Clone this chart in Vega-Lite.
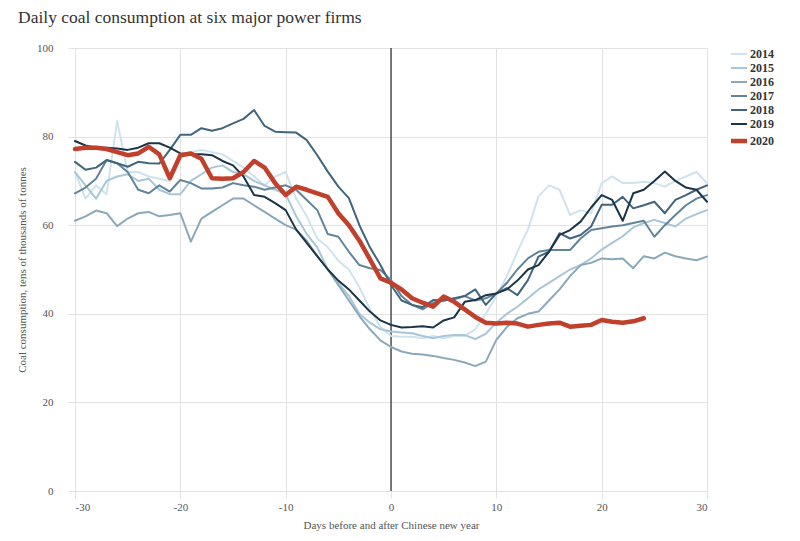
{
  "$schema": "https://vega.github.io/schema/vega-lite/v6.json",
  "description": "Daily coal consumption at six major power firms, days around Chinese new year",
  "width": 632,
  "height": 443,
  "autosize": {"type": "none"},
  "padding": {"left": 75, "top": 48, "right": 93, "bottom": 50},
  "background": "white",
  "config": {"font": "Liberation Serif", "view": {"stroke": null}},
  "title": {
    "text": "Daily coal consumption at six major power firms",
    "anchor": "start",
    "frame": "group",
    "dx": -57,
    "offset": 16,
    "fontSize": 17.5,
    "fontWeight": "normal",
    "color": "#333",
    "font": "Liberation Serif"
  },
  "layer": [
    {
      "data": {"values": [{}]},
      "mark": {"type": "rule", "color": "#000", "strokeWidth": 1},
      "encoding": {"x": {"datum": 0, "type": "quantitative"}}
    },
    {
      "data": {
        "values": [
          {"year":"2014","day":-30,"value":72},{"year":"2014","day":-29,"value":66},{"year":"2014","day":-28,"value":69},{"year":"2014","day":-27,"value":67},{"year":"2014","day":-26,"value":83.5},
          {"year":"2014","day":-25,"value":72},{"year":"2014","day":-24,"value":72},{"year":"2014","day":-23,"value":71},{"year":"2014","day":-22,"value":70.5},{"year":"2014","day":-21,"value":70},
          {"year":"2014","day":-20,"value":75},{"year":"2014","day":-19,"value":76.5},{"year":"2014","day":-18,"value":77},{"year":"2014","day":-17,"value":76.5},{"year":"2014","day":-16,"value":76},
          {"year":"2014","day":-15,"value":74.5},{"year":"2014","day":-14,"value":73},{"year":"2014","day":-13,"value":71},{"year":"2014","day":-12,"value":69},{"year":"2014","day":-11,"value":71},
          {"year":"2014","day":-10,"value":72},{"year":"2014","day":-9,"value":66},{"year":"2014","day":-8,"value":62},{"year":"2014","day":-7,"value":57},{"year":"2014","day":-6,"value":55},
          {"year":"2014","day":-5,"value":52},{"year":"2014","day":-4,"value":50},{"year":"2014","day":-3,"value":46},{"year":"2014","day":-2,"value":41},{"year":"2014","day":-1,"value":37},
          {"year":"2014","day":0,"value":35},{"year":"2014","day":1,"value":34.8},{"year":"2014","day":2,"value":34.8},{"year":"2014","day":3,"value":34.5},{"year":"2014","day":4,"value":35},
          {"year":"2014","day":5,"value":34.5},{"year":"2014","day":6,"value":35},{"year":"2014","day":7,"value":35},{"year":"2014","day":8,"value":36.5},{"year":"2014","day":9,"value":40},
          {"year":"2014","day":10,"value":44},{"year":"2014","day":11,"value":48.5},{"year":"2014","day":12,"value":54},{"year":"2014","day":13,"value":59},{"year":"2014","day":14,"value":66.5},
          {"year":"2014","day":15,"value":69},{"year":"2014","day":16,"value":68},{"year":"2014","day":17,"value":62.3},{"year":"2014","day":18,"value":63.4},{"year":"2014","day":19,"value":62.7},
          {"year":"2014","day":20,"value":69.5},{"year":"2014","day":21,"value":71},{"year":"2014","day":22,"value":69.5},{"year":"2014","day":23,"value":69.5},{"year":"2014","day":24,"value":69.8},
          {"year":"2014","day":25,"value":69.5},{"year":"2014","day":26,"value":68.7},{"year":"2014","day":27,"value":70},{"year":"2014","day":28,"value":71},{"year":"2014","day":29,"value":72},
          {"year":"2014","day":30,"value":69.5},

          {"year":"2015","day":-30,"value":72},{"year":"2015","day":-29,"value":69},{"year":"2015","day":-28,"value":66},{"year":"2015","day":-27,"value":70},{"year":"2015","day":-26,"value":71},
          {"year":"2015","day":-25,"value":71.5},{"year":"2015","day":-24,"value":70},{"year":"2015","day":-23,"value":70.5},{"year":"2015","day":-22,"value":68},{"year":"2015","day":-21,"value":67},
          {"year":"2015","day":-20,"value":67},{"year":"2015","day":-19,"value":70},{"year":"2015","day":-18,"value":71.5},{"year":"2015","day":-17,"value":73},{"year":"2015","day":-16,"value":73.5},
          {"year":"2015","day":-15,"value":72},{"year":"2015","day":-14,"value":71.5},{"year":"2015","day":-13,"value":70},{"year":"2015","day":-12,"value":69},{"year":"2015","day":-11,"value":68},
          {"year":"2015","day":-10,"value":67},{"year":"2015","day":-9,"value":62},{"year":"2015","day":-8,"value":58},{"year":"2015","day":-7,"value":55},{"year":"2015","day":-6,"value":50},
          {"year":"2015","day":-5,"value":47},{"year":"2015","day":-4,"value":44},{"year":"2015","day":-3,"value":40},{"year":"2015","day":-2,"value":38},{"year":"2015","day":-1,"value":36.5},
          {"year":"2015","day":0,"value":36},{"year":"2015","day":1,"value":35.8},{"year":"2015","day":2,"value":35.6},{"year":"2015","day":3,"value":35},{"year":"2015","day":4,"value":34.5},
          {"year":"2015","day":5,"value":35},{"year":"2015","day":6,"value":35.2},{"year":"2015","day":7,"value":35.2},{"year":"2015","day":8,"value":34.3},{"year":"2015","day":9,"value":35.5},
          {"year":"2015","day":10,"value":38},{"year":"2015","day":11,"value":40},{"year":"2015","day":12,"value":41.6},{"year":"2015","day":13,"value":43.5},{"year":"2015","day":14,"value":45.5},
          {"year":"2015","day":15,"value":47},{"year":"2015","day":16,"value":48.5},{"year":"2015","day":17,"value":50},{"year":"2015","day":18,"value":51},{"year":"2015","day":19,"value":52.5},
          {"year":"2015","day":20,"value":54.5},{"year":"2015","day":21,"value":56},{"year":"2015","day":22,"value":57.5},{"year":"2015","day":23,"value":59.5},{"year":"2015","day":24,"value":60.5},
          {"year":"2015","day":25,"value":61.2},{"year":"2015","day":26,"value":60.5},{"year":"2015","day":27,"value":59.7},{"year":"2015","day":28,"value":61.5},{"year":"2015","day":29,"value":62.5},
          {"year":"2015","day":30,"value":63.4},

          {"year":"2016","day":-30,"value":61},{"year":"2016","day":-29,"value":62},{"year":"2016","day":-28,"value":63.3},{"year":"2016","day":-27,"value":62.7},{"year":"2016","day":-26,"value":59.8},
          {"year":"2016","day":-25,"value":61.5},{"year":"2016","day":-24,"value":62.7},{"year":"2016","day":-23,"value":63},{"year":"2016","day":-22,"value":62},{"year":"2016","day":-21,"value":62.3},
          {"year":"2016","day":-20,"value":62.7},{"year":"2016","day":-19,"value":56.3},{"year":"2016","day":-18,"value":61.5},{"year":"2016","day":-17,"value":63},{"year":"2016","day":-16,"value":64.5},
          {"year":"2016","day":-15,"value":66},{"year":"2016","day":-14,"value":66},{"year":"2016","day":-13,"value":64.5},{"year":"2016","day":-12,"value":63},{"year":"2016","day":-11,"value":61.5},
          {"year":"2016","day":-10,"value":60},{"year":"2016","day":-9,"value":59},{"year":"2016","day":-8,"value":56.5},{"year":"2016","day":-7,"value":53},{"year":"2016","day":-6,"value":50},
          {"year":"2016","day":-5,"value":46.5},{"year":"2016","day":-4,"value":43},{"year":"2016","day":-3,"value":39.5},{"year":"2016","day":-2,"value":36.5},{"year":"2016","day":-1,"value":34},
          {"year":"2016","day":0,"value":32.5},{"year":"2016","day":1,"value":31.5},{"year":"2016","day":2,"value":31},{"year":"2016","day":3,"value":30.8},{"year":"2016","day":4,"value":30.5},
          {"year":"2016","day":5,"value":30},{"year":"2016","day":6,"value":29.6},{"year":"2016","day":7,"value":29},{"year":"2016","day":8,"value":28.2},{"year":"2016","day":9,"value":29.2},
          {"year":"2016","day":10,"value":34.1},{"year":"2016","day":11,"value":37},{"year":"2016","day":12,"value":39},{"year":"2016","day":13,"value":40},{"year":"2016","day":14,"value":40.5},
          {"year":"2016","day":15,"value":43},{"year":"2016","day":16,"value":45.5},{"year":"2016","day":17,"value":48.5},{"year":"2016","day":18,"value":51},{"year":"2016","day":19,"value":51.5},
          {"year":"2016","day":20,"value":52.5},{"year":"2016","day":21,"value":52.3},{"year":"2016","day":22,"value":52.5},{"year":"2016","day":23,"value":50.3},{"year":"2016","day":24,"value":53},
          {"year":"2016","day":25,"value":52.5},{"year":"2016","day":26,"value":53.8},{"year":"2016","day":27,"value":53},{"year":"2016","day":28,"value":52.5},{"year":"2016","day":29,"value":52.1},
          {"year":"2016","day":30,"value":52.9},

          {"year":"2017","day":-30,"value":67.2},{"year":"2017","day":-29,"value":68.5},{"year":"2017","day":-28,"value":70.5},{"year":"2017","day":-27,"value":74.7},{"year":"2017","day":-26,"value":74},
          {"year":"2017","day":-25,"value":72},{"year":"2017","day":-24,"value":68},{"year":"2017","day":-23,"value":67.2},{"year":"2017","day":-22,"value":69},{"year":"2017","day":-21,"value":67.6},
          {"year":"2017","day":-20,"value":70.2},{"year":"2017","day":-19,"value":69.5},{"year":"2017","day":-18,"value":68.3},{"year":"2017","day":-17,"value":68.3},{"year":"2017","day":-16,"value":68.5},
          {"year":"2017","day":-15,"value":69.5},{"year":"2017","day":-14,"value":69},{"year":"2017","day":-13,"value":68.7},{"year":"2017","day":-12,"value":68},{"year":"2017","day":-11,"value":68.5},
          {"year":"2017","day":-10,"value":69},{"year":"2017","day":-9,"value":68},{"year":"2017","day":-8,"value":65.7},{"year":"2017","day":-7,"value":63.4},{"year":"2017","day":-6,"value":58},
          {"year":"2017","day":-5,"value":57.4},{"year":"2017","day":-4,"value":54},{"year":"2017","day":-3,"value":51},{"year":"2017","day":-2,"value":50.3},{"year":"2017","day":-1,"value":49.9},
          {"year":"2017","day":0,"value":47.6},{"year":"2017","day":1,"value":44},{"year":"2017","day":2,"value":42},{"year":"2017","day":3,"value":41},{"year":"2017","day":4,"value":42.5},
          {"year":"2017","day":5,"value":43},{"year":"2017","day":6,"value":43.3},{"year":"2017","day":7,"value":44},{"year":"2017","day":8,"value":43},{"year":"2017","day":9,"value":43.5},
          {"year":"2017","day":10,"value":44.6},{"year":"2017","day":11,"value":47},{"year":"2017","day":12,"value":50},{"year":"2017","day":13,"value":52.5},{"year":"2017","day":14,"value":54},
          {"year":"2017","day":15,"value":54.4},{"year":"2017","day":16,"value":54.4},{"year":"2017","day":17,"value":54.4},{"year":"2017","day":18,"value":57},{"year":"2017","day":19,"value":58.9},
          {"year":"2017","day":20,"value":59.3},{"year":"2017","day":21,"value":59.7},{"year":"2017","day":22,"value":60},{"year":"2017","day":23,"value":60.5},{"year":"2017","day":24,"value":61},
          {"year":"2017","day":25,"value":57.4},{"year":"2017","day":26,"value":60},{"year":"2017","day":27,"value":62.3},{"year":"2017","day":28,"value":64.5},{"year":"2017","day":29,"value":66},
          {"year":"2017","day":30,"value":66.8},

          {"year":"2018","day":-30,"value":74.3},{"year":"2018","day":-29,"value":72.5},{"year":"2018","day":-28,"value":73},{"year":"2018","day":-27,"value":74.7},{"year":"2018","day":-26,"value":74},
          {"year":"2018","day":-25,"value":73.2},{"year":"2018","day":-24,"value":74.3},{"year":"2018","day":-23,"value":74},{"year":"2018","day":-22,"value":73.9},{"year":"2018","day":-21,"value":77},
          {"year":"2018","day":-20,"value":80.4},{"year":"2018","day":-19,"value":80.4},{"year":"2018","day":-18,"value":81.9},{"year":"2018","day":-17,"value":81.3},{"year":"2018","day":-16,"value":81.9},
          {"year":"2018","day":-15,"value":83},{"year":"2018","day":-14,"value":84},{"year":"2018","day":-13,"value":86},{"year":"2018","day":-12,"value":82.4},{"year":"2018","day":-11,"value":81.1},
          {"year":"2018","day":-10,"value":81},{"year":"2018","day":-9,"value":80.9},{"year":"2018","day":-8,"value":79.2},{"year":"2018","day":-7,"value":75.8},{"year":"2018","day":-6,"value":72.1},
          {"year":"2018","day":-5,"value":68.7},{"year":"2018","day":-4,"value":66.1},{"year":"2018","day":-3,"value":60},{"year":"2018","day":-2,"value":55},{"year":"2018","day":-1,"value":51},
          {"year":"2018","day":0,"value":46.5},{"year":"2018","day":1,"value":43},{"year":"2018","day":2,"value":42},{"year":"2018","day":3,"value":41.5},{"year":"2018","day":4,"value":43.1},
          {"year":"2018","day":5,"value":43},{"year":"2018","day":6,"value":43.5},{"year":"2018","day":7,"value":44},{"year":"2018","day":8,"value":45.5},{"year":"2018","day":9,"value":42},
          {"year":"2018","day":10,"value":44.6},{"year":"2018","day":11,"value":45.8},{"year":"2018","day":12,"value":44.2},{"year":"2018","day":13,"value":47.6},{"year":"2018","day":14,"value":52.9},
          {"year":"2018","day":15,"value":54},{"year":"2018","day":16,"value":58.2},{"year":"2018","day":17,"value":57},{"year":"2018","day":18,"value":57.8},{"year":"2018","day":19,"value":59.7},
          {"year":"2018","day":20,"value":64.6},{"year":"2018","day":21,"value":64.6},{"year":"2018","day":22,"value":66.4},{"year":"2018","day":23,"value":63.8},{"year":"2018","day":24,"value":64.5},
          {"year":"2018","day":25,"value":65.3},{"year":"2018","day":26,"value":62.7},{"year":"2018","day":27,"value":65.7},{"year":"2018","day":28,"value":66.8},{"year":"2018","day":29,"value":68},
          {"year":"2018","day":30,"value":69},

          {"year":"2019","day":-30,"value":79},{"year":"2019","day":-29,"value":78},{"year":"2019","day":-28,"value":77.5},{"year":"2019","day":-27,"value":77.5},{"year":"2019","day":-26,"value":77.3},
          {"year":"2019","day":-25,"value":77},{"year":"2019","day":-24,"value":77.5},{"year":"2019","day":-23,"value":78.5},{"year":"2019","day":-22,"value":78.5},{"year":"2019","day":-21,"value":77.5},
          {"year":"2019","day":-20,"value":76.2},{"year":"2019","day":-19,"value":76},{"year":"2019","day":-18,"value":76},{"year":"2019","day":-17,"value":75.8},{"year":"2019","day":-16,"value":74.5},
          {"year":"2019","day":-15,"value":73.5},{"year":"2019","day":-14,"value":71},{"year":"2019","day":-13,"value":66.8},{"year":"2019","day":-12,"value":66.4},{"year":"2019","day":-11,"value":65},
          {"year":"2019","day":-10,"value":63.4},{"year":"2019","day":-9,"value":59},{"year":"2019","day":-8,"value":56},{"year":"2019","day":-7,"value":53},{"year":"2019","day":-6,"value":50},
          {"year":"2019","day":-5,"value":47.5},{"year":"2019","day":-4,"value":45.5},{"year":"2019","day":-3,"value":43},{"year":"2019","day":-2,"value":40.5},{"year":"2019","day":-1,"value":38.5},
          {"year":"2019","day":0,"value":37.5},{"year":"2019","day":1,"value":36.9},{"year":"2019","day":2,"value":37},{"year":"2019","day":3,"value":37.2},{"year":"2019","day":4,"value":36.9},
          {"year":"2019","day":5,"value":38.5},{"year":"2019","day":6,"value":39.2},{"year":"2019","day":7,"value":42.7},{"year":"2019","day":8,"value":43.1},{"year":"2019","day":9,"value":44.2},
          {"year":"2019","day":10,"value":44.6},{"year":"2019","day":11,"value":45.5},{"year":"2019","day":12,"value":47.5},{"year":"2019","day":13,"value":50},{"year":"2019","day":14,"value":51},
          {"year":"2019","day":15,"value":54},{"year":"2019","day":16,"value":57.8},{"year":"2019","day":17,"value":58.9},{"year":"2019","day":18,"value":60.8},{"year":"2019","day":19,"value":64},
          {"year":"2019","day":20,"value":66.8},{"year":"2019","day":21,"value":65.7},{"year":"2019","day":22,"value":61},{"year":"2019","day":23,"value":67.2},{"year":"2019","day":24,"value":68},
          {"year":"2019","day":25,"value":70},{"year":"2019","day":26,"value":72.1},{"year":"2019","day":27,"value":70},{"year":"2019","day":28,"value":68.5},{"year":"2019","day":29,"value":68},
          {"year":"2019","day":30,"value":65.3},

          {"year":"2020","day":-30,"value":77.2},{"year":"2020","day":-29,"value":77.5},{"year":"2020","day":-28,"value":77.5},{"year":"2020","day":-27,"value":77.2},{"year":"2020","day":-26,"value":76.5},
          {"year":"2020","day":-25,"value":75.8},{"year":"2020","day":-24,"value":76.2},{"year":"2020","day":-23,"value":77.7},{"year":"2020","day":-22,"value":76},{"year":"2020","day":-21,"value":70.6},
          {"year":"2020","day":-20,"value":75.8},{"year":"2020","day":-19,"value":76.2},{"year":"2020","day":-18,"value":75},{"year":"2020","day":-17,"value":70.6},{"year":"2020","day":-16,"value":70.5},
          {"year":"2020","day":-15,"value":70.6},{"year":"2020","day":-14,"value":72},{"year":"2020","day":-13,"value":74.5},{"year":"2020","day":-12,"value":73},{"year":"2020","day":-11,"value":69.5},
          {"year":"2020","day":-10,"value":66.8},{"year":"2020","day":-9,"value":68.7},{"year":"2020","day":-8,"value":68},{"year":"2020","day":-7,"value":67.2},{"year":"2020","day":-6,"value":66.4},
          {"year":"2020","day":-5,"value":62.7},{"year":"2020","day":-4,"value":60},{"year":"2020","day":-3,"value":56.5},{"year":"2020","day":-2,"value":52.3},{"year":"2020","day":-1,"value":48},
          {"year":"2020","day":0,"value":47},{"year":"2020","day":1,"value":45.5},{"year":"2020","day":2,"value":43.5},{"year":"2020","day":3,"value":42.5},{"year":"2020","day":4,"value":41.6},
          {"year":"2020","day":5,"value":43.9},{"year":"2020","day":6,"value":42.7},{"year":"2020","day":7,"value":41},{"year":"2020","day":8,"value":39.3},{"year":"2020","day":9,"value":38},
          {"year":"2020","day":10,"value":37.8},{"year":"2020","day":11,"value":38},{"year":"2020","day":12,"value":37.8},{"year":"2020","day":13,"value":37.1},{"year":"2020","day":14,"value":37.5},
          {"year":"2020","day":15,"value":37.8},{"year":"2020","day":16,"value":38},{"year":"2020","day":17,"value":37.1},{"year":"2020","day":18,"value":37.3},{"year":"2020","day":19,"value":37.5},
          {"year":"2020","day":20,"value":38.6},{"year":"2020","day":21,"value":38.2},{"year":"2020","day":22,"value":38},{"year":"2020","day":23,"value":38.3},{"year":"2020","day":24,"value":39}
        ]
      },
      "mark": {"type": "line", "strokeJoin": "round", "strokeCap": "round"},
      "encoding": {
        "x": {
          "field": "day",
          "type": "quantitative",
          "scale": {"domain": [-30, 30], "nice": false, "zero": false},
          "axis": {
            "values": [-30, -20, -10, 0, 10, 20, 30],
            "labelExpr": "replace(datum.label, '\u2212', '-')",
            "title": "Days before and after Chinese new year",
            "titleFont": "Liberation Serif",
            "titleFontSize": 11,
            "titleFontWeight": "normal",
            "titleColor": "#555",
            "titlePadding": 7,
            "labelFont": "Liberation Serif",
            "labelFontSize": 11,
            "labelColor": "#555",
            "labelPadding": 3,
            "domain": false,
            "grid": true,
            "gridColor": "#e2e2e2",
            "tickColor": "#e2e2e2",
            "tickSize": 7
          }
        },
        "y": {
          "field": "value",
          "type": "quantitative",
          "scale": {"domain": [0, 100], "nice": false},
          "axis": {
            "values": [0, 20, 40, 60, 80, 100],
            "title": "Coal consumption, tens of thousands of tonnes",
            "titleFont": "Liberation Serif",
            "titleFontSize": 11,
            "titleFontWeight": "normal",
            "titleColor": "#555",
            "titlePadding": 9,
            "labelFont": "Liberation Serif",
            "labelFontSize": 11,
            "labelColor": "#555",
            "labelPadding": 15,
            "domain": false,
            "grid": true,
            "gridColor": "#e2e2e2",
            "tickColor": "#e2e2e2",
            "tickSize": 7
          }
        },
        "color": {
          "field": "year",
          "type": "nominal",
          "scale": {
            "domain": ["2014", "2015", "2016", "2017", "2018", "2019", "2020"],
            "range": ["#cfe3ee", "#a8c6d7", "#8ba8bb", "#62849b", "#41657c", "#1b3447", "#c0402c"]
          },
          "legend": {
            "title": null,
            "orient": "right",
            "offset": 25,
            "symbolType": "stroke",
            "symbolSize": 256,
            "symbolStrokeWidth": 2,
            "labelFont": "Liberation Serif",
            "labelFontSize": 12,
            "labelFontWeight": "bold",
            "labelColor": "#333",
            "labelOffset": 5,
            "rowPadding": 2,
            "encode": {
              "symbols": {
                "update": {"strokeWidth": {"signal": "datum.value === '2020' ? 4.5 : 2"}}
              }
            }
          }
        },
        "strokeWidth": {
          "condition": {"test": "datum.year === '2020'", "value": 4.5},
          "value": 2
        }
      }
    }
  ]
}
